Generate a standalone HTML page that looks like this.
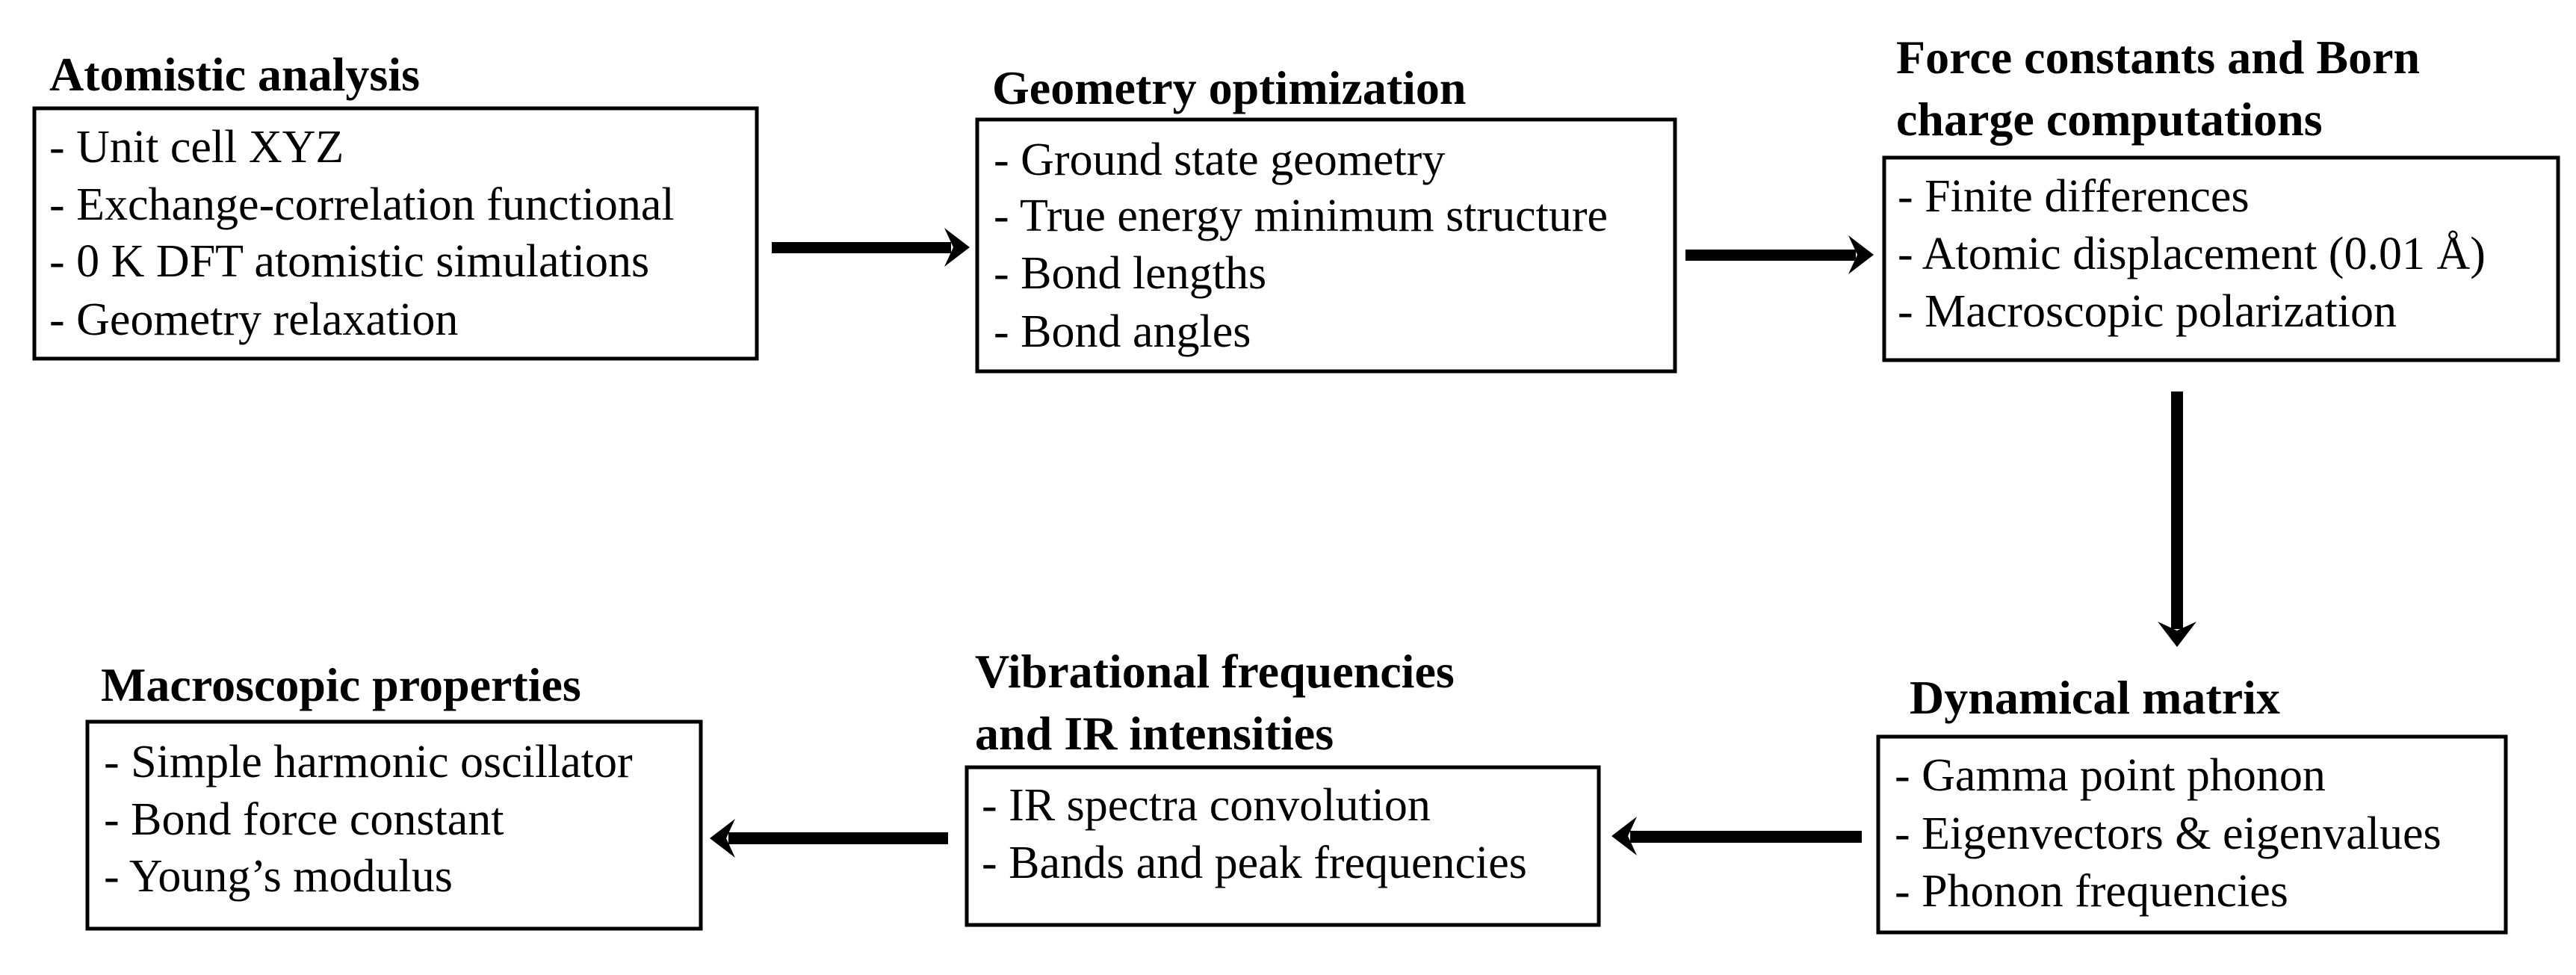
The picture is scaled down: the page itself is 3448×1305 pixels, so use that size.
<!DOCTYPE html>
<html><head><meta charset="utf-8"><style>
html,body{margin:0;padding:0;background:#fff;}
svg{display:block;}
.t{font-family:"Liberation Serif",serif;font-weight:bold;font-size:64px;fill:#000;}
.b{font-family:"Liberation Serif",serif;font-size:62px;fill:#000;}
</style></head><body>
<svg width="3448" height="1305" viewBox="0 0 3448 1305" xmlns="http://www.w3.org/2000/svg">
<rect width="3448" height="1305" fill="#fff"/>
<g fill="none" stroke="#000" stroke-width="5">
<rect x="46" y="145" width="967" height="335"/>
<rect x="1308" y="160" width="934" height="337"/>
<rect x="2522" y="211" width="902" height="271"/>
<rect x="2514" y="986" width="840" height="262"/>
<rect x="1294" y="1027" width="846" height="211"/>
<rect x="117" y="966" width="821" height="277"/>
</g>
<g fill="#000">
<rect x="1033" y="324" width="240" height="15"/>
<polygon points="1298,331 1264,305 1276,331 1264,357"/>
<rect x="2256" y="334" width="228" height="15"/>
<polygon points="2508,341 2474,315 2486,341 2474,367"/>
<rect x="2906" y="524" width="16" height="318"/>
<polygon points="2914,866 2888,832 2914,844 2940,832"/>
<rect x="2182" y="1112" width="310" height="16"/>
<polygon points="2157,1119 2191,1093 2179,1119 2191,1145"/>
<rect x="975" y="1114" width="294" height="16"/>
<polygon points="950,1122 984,1096 972,1122 984,1148"/>
</g>
<text class="t" x="66" y="121">Atomistic analysis</text>
<text class="b" x="66" y="217">- Unit cell XYZ</text>
<text class="b" x="66" y="294">- Exchange-correlation functional</text>
<text class="b" x="66" y="370">- 0 K DFT atomistic simulations</text>
<text class="b" x="66" y="448">- Geometry relaxation</text>

<text class="t" x="1328" y="139">Geometry optimization</text>
<text class="b" x="1330" y="234">- Ground state geometry</text>
<text class="b" x="1330" y="309">- True energy minimum structure</text>
<text class="b" x="1330" y="386">- Bond lengths</text>
<text class="b" x="1330" y="464">- Bond angles</text>

<text class="t" x="2538" y="98">Force constants and Born</text>
<text class="t" x="2538" y="181">charge computations</text>
<text class="b" x="2540" y="283">- Finite differences</text>
<text class="b" x="2540" y="360">- Atomic displacement (0.01 Å)</text>
<text class="b" x="2540" y="437">- Macroscopic polarization</text>

<text class="t" x="2556" y="955">Dynamical matrix</text>
<text class="b" x="2536" y="1058">- Gamma point phonon</text>
<text class="b" x="2536" y="1136">- Eigenvectors &amp; eigenvalues</text>
<text class="b" x="2536" y="1213">- Phonon frequencies</text>

<text class="t" x="1305" y="920">Vibrational frequencies</text>
<text class="t" x="1305" y="1003">and IR intensities</text>
<text class="b" x="1314" y="1098">- IR spectra convolution</text>
<text class="b" x="1314" y="1175">- Bands and peak frequencies</text>

<text class="t" x="135" y="938">Macroscopic properties</text>
<text class="b" x="139" y="1040">- Simple harmonic oscillator</text>
<text class="b" x="139" y="1117">- Bond force constant</text>
<text class="b" x="139" y="1193">- Young’s modulus</text>
</svg>
</body></html>
